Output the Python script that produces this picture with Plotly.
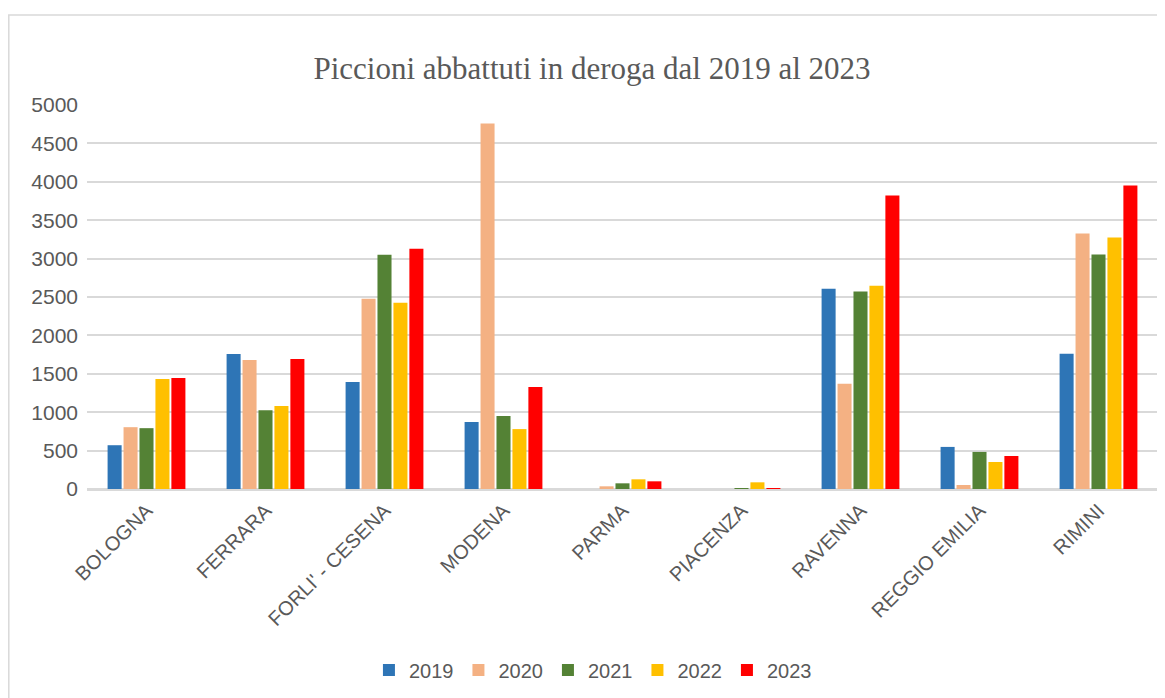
import plotly.graph_objects as go

categories = ["BOLOGNA", "FERRARA", "FORLI' - CESENA", "MODENA", "PARMA",
              "PIACENZA", "RAVENNA", "REGGIO EMILIA", "RIMINI"]
years = ["2019", "2020", "2021", "2022", "2023"]
v2019 = [570, 1758, 1393, 871, 0, 0, 2609, 548, 1761]
v2020 = [805, 1680, 2477, 4760, 35, 0, 1370, 52, 3326]
v2021 = [792, 1027, 3050, 949, 74, 10, 2570, 483, 3052]
v2022 = [1432, 1080, 2424, 780, 126, 87, 2648, 352, 3274]
v2023 = [1445, 1693, 3129, 1327, 100, 5, 3822, 430, 3952]
series = [v2019, v2020, v2021, v2022, v2023]
colors = ["#2E75B6", "#F4B183", "#548235", "#FFC000", "#FF0000"]

fig = go.Figure()
for name, vals, c in zip(years, series, colors):
    fig.add_trace(go.Bar(name=name, x=categories, y=vals, marker_color=c,
                         marker_line_width=0))

W, H = 1157, 690
L, R, T, B = 79, 7, 97, 209
pw, ph = W - L - R, H - T - B

fam = "Liberation Sans, Arial, sans-serif"
fig.update_layout(
    width=W, height=H,
    paper_bgcolor="white", plot_bgcolor="white",
    margin=dict(l=L, r=R, t=T, b=B),
    barmode="group", bargap=0.33, bargroupgap=0.12,
    title=dict(text="Piccioni abbattuti in deroga dal 2019 al 2023",
               font=dict(family="Liberation Serif, Times New Roman, serif", size=31, color="#595959"),
               x=584 / W, xref="container", xanchor="center",
               y=1 - 60 / H, yref="container", yanchor="middle"),
    xaxis=dict(tickangle=-45, tickfont=dict(family=fam, size=20, color="#595959"),
               showgrid=False, showline=True, linecolor="#d9d9d9", linewidth=2, ticks=""),
    yaxis=dict(range=[0, 5000], dtick=500,
               tickfont=dict(family=fam, size=21, color="#595959"),
               showgrid=True, gridcolor="#d9d9d9", gridwidth=1.5,
               zeroline=True, zerolinecolor="#d9d9d9", zerolinewidth=2,
               ticks="", ticklabelstandoff=8),
    legend=dict(orientation="h", x=0.4724, xanchor="center", y=(481 - 662) / ph, yanchor="middle",
                font=dict(family=fam, size=20, color="#595959"), traceorder="normal", itemwidth=30),
    shapes=[dict(type="rect", xref="paper", yref="paper",
                 x0=(0.8 - L) / pw, x1=1.05, y0=-0.7, y1=(481 - 7) / ph,
                 line=dict(color="#d9d9d9", width=1.5), layer="below")],
)

fig.write_html("out.html")
